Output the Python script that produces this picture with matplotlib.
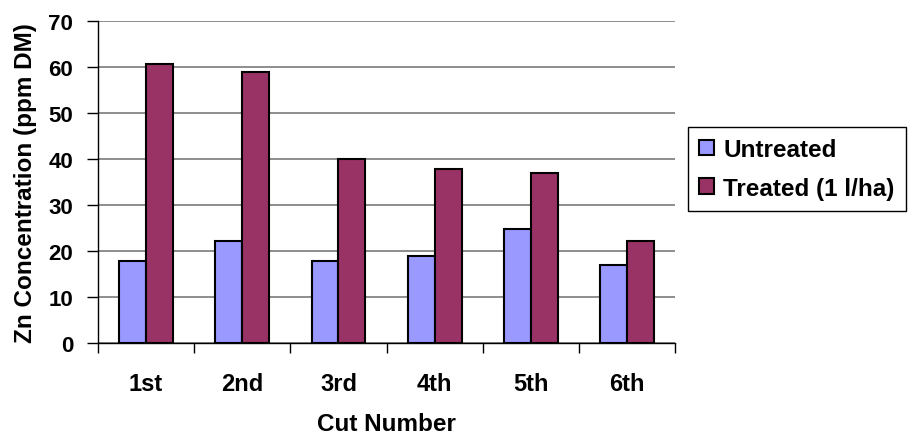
import numpy as np
import matplotlib.pyplot as plt

plt.rcParams['font.family'] = ['Liberation Sans', 'DejaVu Sans']
plt.rcParams['font.weight'] = 'bold'

# Zn concentration per cut
cuts = ['1st', '2nd', '3rd', '4th', '5th', '6th']
untreated = [17.8, 22.1, 17.8, 19.0, 24.7, 16.9]
treated = [60.8, 59.0, 40.0, 37.8, 37.0, 22.1]
y_ticks = [0, 10, 20, 30, 40, 50, 60, 70]

fig = plt.figure(figsize=(9.16, 4.39), dpi=100)
ax = fig.add_axes([0.107, 0.2164, 0.63, 0.733])

x = np.arange(len(cuts))
w = 0.28
ax.bar(x - w / 2, untreated, w, color='#9999FF', edgecolor='black',
       linewidth=1.5, label='Untreated', zorder=3)
ax.bar(x + w / 2, treated, w, color='#993366', edgecolor='black',
       linewidth=1.5, label='Treated (1 l/ha)', zorder=3)

ax.set_xlim(-0.5, len(cuts) - 0.5)
ax.set_ylim(0, 70)
ax.set_yticks(y_ticks)
ax.set_yticklabels([str(v) for v in y_ticks], fontsize=16, fontweight='bold')

# category labels between the boundary ticks
ax.set_xticks(np.arange(len(cuts) + 1) - 0.5)
ax.set_xticklabels([])
ax.set_xticks(x, minor=True)
ax.set_xticklabels(cuts, minor=True, fontsize=17, fontweight='bold')
ax.tick_params(axis='x', which='minor', length=0, pad=21)
ax.tick_params(axis='x', which='major', length=7, width=1)
ax.tick_params(axis='y', length=8, width=1, pad=10)

ax.yaxis.grid(True, color='#7a7a7a', linewidth=1.2, zorder=0)
for s in ['top', 'right']:
    ax.spines[s].set_visible(False)
ax.spines['left'].set_linewidth(1)
ax.spines['bottom'].set_linewidth(1)

ax.set_xlabel('Cut Number', fontsize=17.5, fontweight='bold', labelpad=12)
ax.set_ylabel('Zn Concentration (ppm DM)', fontsize=17.5, fontweight='bold', labelpad=8)

leg = ax.legend(loc='upper left', bbox_to_anchor=(688 / 916, 1 - 128 / 439),
                bbox_transform=fig.transFigure, frameon=True, fancybox=False,
                edgecolor='black', framealpha=1, prop={'size': 17.5, 'weight': 'bold'},
                handlelength=0.6, handleheight=0.6, handletextpad=0.4,
                labelspacing=0.65, borderpad=0.45, borderaxespad=0)
leg.get_frame().set_linewidth(1)

fig.savefig('out.png', dpi=100)
